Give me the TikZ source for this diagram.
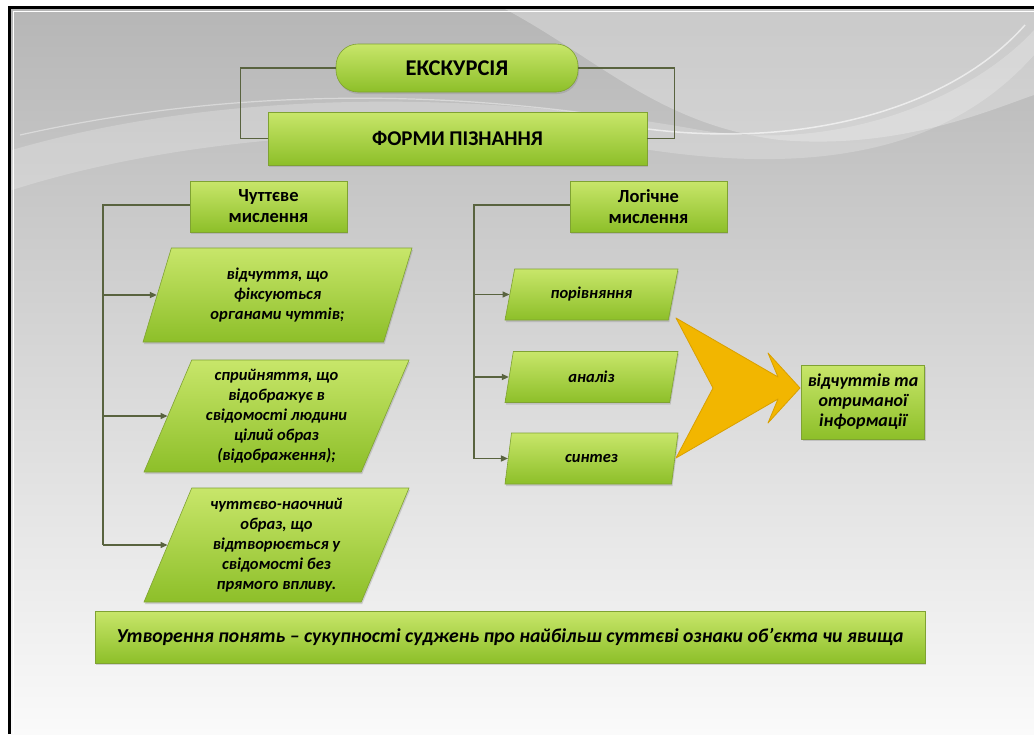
\documentclass[tikz,border=0pt]{standalone}
\usepackage{fontspec}
\setmainfont{Carlito}
\usetikzlibrary{shapes.geometric,arrows.meta,shadows}
\definecolor{gtop}{HTML}{C8E66A}
\definecolor{gbot}{HTML}{8DBF29}
\definecolor{gline}{HTML}{7FA232}
\definecolor{connc}{HTML}{59633F}
\definecolor{gold}{HTML}{F2B600}
\definecolor{golddark}{HTML}{D9A000}
\definecolor{bgtop}{HTML}{B6B6B6}
\definecolor{bgmid}{HTML}{E0E0E0}
\definecolor{bgbot}{HTML}{FAFAFA}
\begin{document}
\begin{tikzpicture}[x=1pt,y=-1pt,
  gbox/.style={draw=gline, line width=0.6pt, top color=gtop, bottom color=gbot,
    drop shadow={opacity=0.3,shadow xshift=1pt,shadow yshift=-2pt},
    align=center, inner sep=2pt},
  headbox/.style={gbox, font=\bfseries\fontsize{21}{22}\selectfont},
  subhead/.style={headbox, font=\bfseries\fontsize{18.5}{21}\selectfont},
  parabox/.style={gbox, trapezium, trapezium left angle=64, trapezium right angle=116,
    trapezium stretches body=true, font=\bfseries\itshape\fontsize{16.5}{20}\selectfont},
  rparabox/.style={parabox, trapezium left angle=62, trapezium right angle=118},
  link/.style={draw=connc, line width=1.4pt},
  arr/.style={link, -{Triangle[length=7pt,width=6pt]}},
]
\useasboundingbox (0,0) rectangle (1034,734);
% background
\fill[white] (0,0) rectangle (1034,734);
\shade[top color=bgtop, middle color=bgmid, bottom color=bgbot] (11,9) rectangle (1034,734);
\fill[white,opacity=0.28] (505,9) .. controls (600,60) and (660,125) .. (780,140)
  .. controls (900,150) and (990,110) .. (1034,95) -- (1034,9) -- cycle;
\fill[white,opacity=0.22] (12,150) .. controls (200,95) and (450,85) .. (700,130)
  .. controls (850,155) and (980,90) .. (1034,30) -- (1034,55)
  .. controls (950,150) and (820,175) .. (650,150)
  .. controls (450,120) and (200,130) .. (12,190) -- cycle;
\draw[white,opacity=0.6,line width=1.5pt] (640,128) .. controls (800,150) and (950,110) .. (1025,25);
\draw[white,opacity=0.4,line width=1.2pt] (20,135) .. controls (200,95) and (400,85) .. (620,118);
% frame
\draw[white,line width=1pt] (13.5,734) -- (13.5,11.5) -- (1034,11.5);
\draw[black,line width=3pt] (9.5,734) -- (9.5,7.5) -- (1034,7.5);

% nodes
\node[headbox, rounded corners=22pt, minimum width=242pt, minimum height=48pt,
  font=\bfseries\fontsize{22.5}{24}\selectfont] (exc) at (457,68) {ЕКСКУРСІЯ};
\node[headbox, minimum width=379pt, minimum height=53pt] (forms) at (457.5,138.5) {ФОРМИ ПІЗНАННЯ};
\node[subhead, minimum width=157pt, minimum height=51pt] (sens) at (268.5,206.5) {Чуттєве\\мислення};
\node[subhead, minimum width=157pt, minimum height=51pt] (logic) at (648.5,206.5) {Логічне\\мислення};

\node[parabox, minimum width=269pt, minimum height=94pt] (p1) at (277.5,295) {відчуття, що\\фіксуються\\органами чуттів;};
\node[parabox, minimum width=265pt, minimum height=112pt] (p2) at (276.5,416) {сприйняття, що\\відображує в\\свідомості людини\\цілий образ\\(відображення);};
\node[parabox, minimum width=265pt, minimum height=114pt] (p3) at (276.5,545) {чуттєво-наочний\\образ, що\\відтворюється у\\свідомості без\\прямого впливу.};

\node[rparabox, minimum width=173pt, minimum height=51pt] (r1) at (591.5,294.5) {порівняння};
\node[rparabox, minimum width=173pt, minimum height=51pt] (r2) at (591.5,377) {аналіз};
\node[rparabox, minimum width=173pt, minimum height=51pt] (r3) at (591.5,458.5) {синтез};

\node[gbox, minimum width=123pt, minimum height=74pt, inner sep=1pt,
  font=\bfseries\itshape\fontsize{18}{20}\selectfont] (res) at (863,402) {відчуттів та\\отриманої\\інформації};

\node[gbox, minimum width=830pt, minimum height=52pt,
  font=\bfseries\itshape\fontsize{19.7}{22}\selectfont] (bar) at (510,637)
  {Утворення понять – сукупності суджень про найбільш суттєві ознаки об’єкта чи явища};

% big arrow
\filldraw[fill=gold, draw=golddark, line width=0.8pt, line join=round]
  (676,318) -- (778,377) -- (768,353) -- (800,388) -- (768,423) -- (778,399)
  -- (676,458) -- (713,388) -- cycle;

% connectors
\draw[link] (exc.west) -- ++(-95,0) |- (forms.west);
\draw[link] (exc.east) -- ++(96,0) |- (forms.east);

\coordinate (lt) at (103,205);
\draw[link] (sens.west |- lt) -- (lt) -- (lt |- p3.west);
\draw[arr] (lt |- p1.west) -- (p1.west);
\draw[arr] (lt |- p2.west) -- (p2.west);
\draw[arr] (lt |- p3.west) -- (p3.west);

\coordinate (rt) at (474,205);
\draw[link] (logic.west |- rt) -- (rt) -- (rt |- r3.west);
\draw[arr] (rt |- r1.west) -- (r1.west);
\draw[arr] (rt |- r2.west) -- (r2.west);
\draw[arr] (rt |- r3.west) -- (r3.west);
\end{tikzpicture}
\end{document}
